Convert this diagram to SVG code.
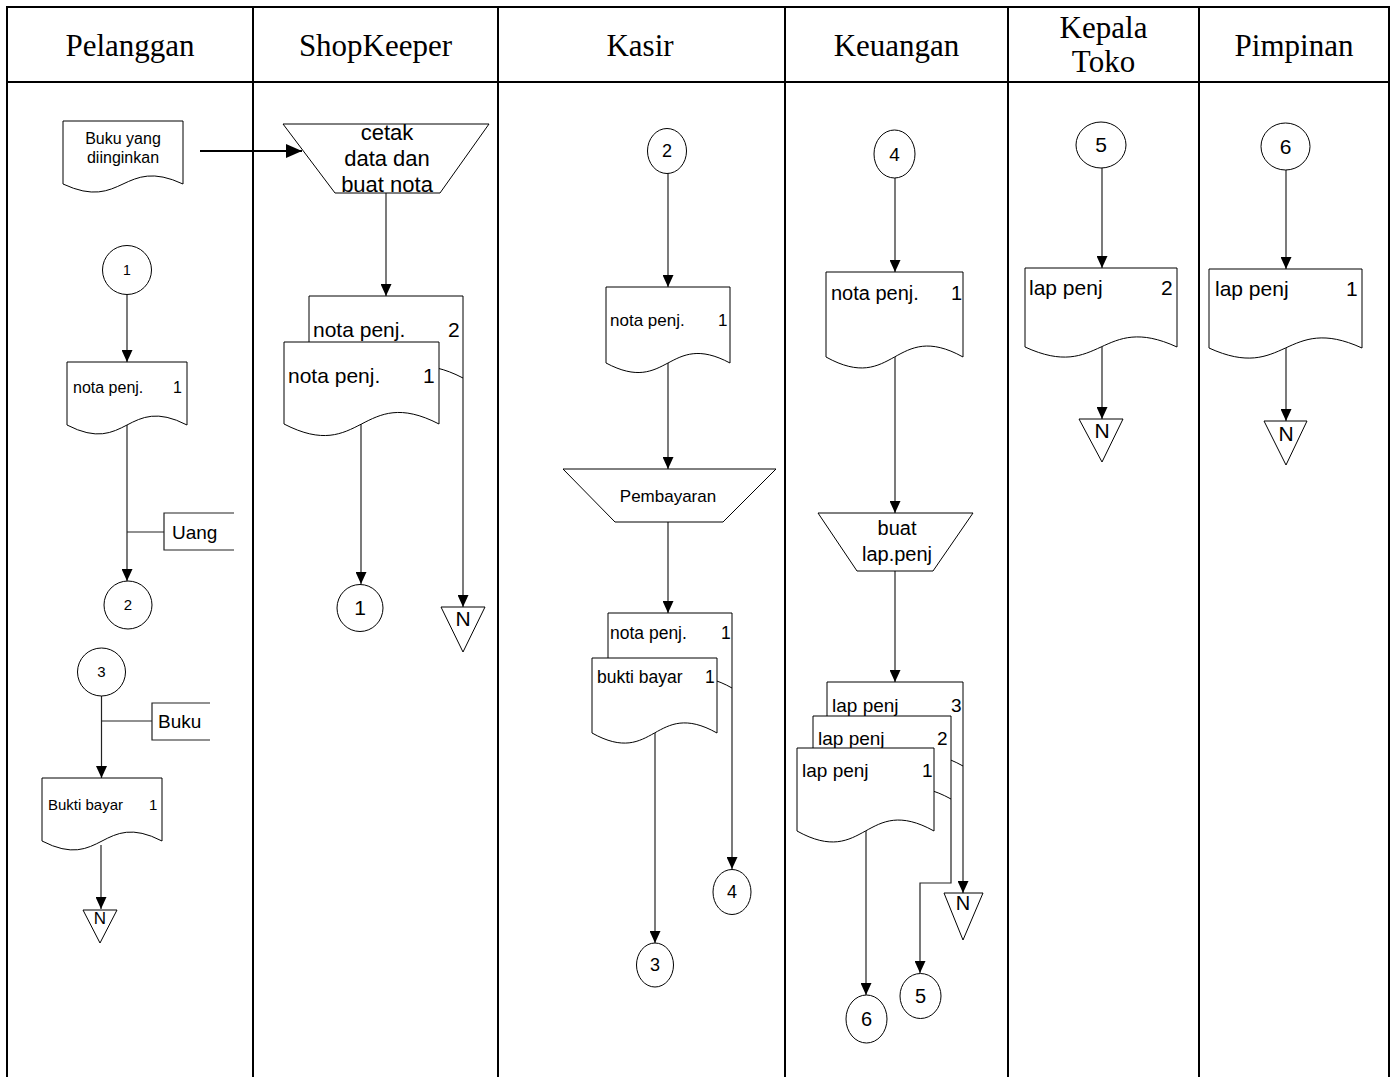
<svg xmlns="http://www.w3.org/2000/svg" width="1395" height="1077" viewBox="0 0 1395 1077">
<style>
.tbl{stroke:#000;stroke-width:2;fill:none}
.hd{font-family:"Liberation Serif","Times New Roman",serif;font-size:31px;text-anchor:middle;fill:#000}
.sh{fill:#fff;stroke:#000;stroke-width:1}
.ln{stroke:#222;stroke-width:1.2;fill:none}
.t{font-family:"Liberation Sans",Arial,sans-serif;fill:#000}
.c{text-anchor:middle}
</style>
<defs>
<marker id="ah" viewBox="0 0 10 10" refX="10" refY="5" markerWidth="12" markerHeight="11" markerUnits="userSpaceOnUse" orient="auto" preserveAspectRatio="none"><path d="M0,0 L10,5 L0,10 Z" fill="#000"/></marker>
<marker id="ahb" viewBox="0 0 10 10" refX="10" refY="5" markerWidth="16" markerHeight="14" markerUnits="userSpaceOnUse" orient="auto" preserveAspectRatio="none"><path d="M0,0 L10,5 L0,10 Z" fill="#000"/></marker>
</defs>
<rect width="1395" height="1077" fill="#fff"/>
<g id="table">
<path class="tbl" d="M7,1077 V7 H1389 V1077 M7,82 H1389 M253,7 V1077 M498,7 V1077 M785,7 V1077 M1008,7 V1077 M1199,7 V1077"/>
<text class="hd" x="130" y="56">Pelanggan</text>
<text class="hd" x="375.5" y="56">ShopKeeper</text>
<text class="hd" x="640" y="56">Kasir</text>
<text class="hd" x="896.5" y="56">Keuangan</text>
<text class="hd" x="1103.5" y="38">Kepala</text>
<text class="hd" x="1103.5" y="72">Toko</text>
<text class="hd" x="1294" y="56">Pimpinan</text>
</g>
<g id="connectors">
<line x1="200" y1="151" x2="302" y2="151" stroke="#000" stroke-width="2" marker-end="url(#ahb)"/>
<line class="ln" x1="127" y1="295" x2="127" y2="362" marker-end="url(#ah)"/>
<line class="ln" x1="127" y1="425" x2="127" y2="581" marker-end="url(#ah)"/>
<line class="ln" x1="127" y1="532" x2="164" y2="532"/>
<line class="ln" x1="101.5" y1="696" x2="101.5" y2="778" marker-end="url(#ah)"/>
<line class="ln" x1="101.5" y1="721" x2="152" y2="721"/>
<line class="ln" x1="101" y1="845" x2="101" y2="909" marker-end="url(#ah)"/>
<line class="ln" x1="386" y1="193" x2="386" y2="296" marker-end="url(#ah)"/>
<line class="ln" x1="361" y1="424" x2="361" y2="584" marker-end="url(#ah)"/>
<line class="ln" x1="463" y1="378" x2="463" y2="607" marker-end="url(#ah)"/>
<line class="ln" x1="668" y1="173" x2="668" y2="287" marker-end="url(#ah)"/>
<line class="ln" x1="668" y1="363" x2="668" y2="469" marker-end="url(#ah)"/>
<line class="ln" x1="668" y1="522" x2="668" y2="613" marker-end="url(#ah)"/>
<line class="ln" x1="732" y1="688" x2="732" y2="869" marker-end="url(#ah)"/>
<line class="ln" x1="655" y1="733" x2="655" y2="943" marker-end="url(#ah)"/>
<line class="ln" x1="895" y1="178" x2="895" y2="272" marker-end="url(#ah)"/>
<line class="ln" x1="895" y1="357" x2="895" y2="513" marker-end="url(#ah)"/>
<line class="ln" x1="895" y1="571" x2="895" y2="682" marker-end="url(#ah)"/>
<line class="ln" x1="963" y1="766" x2="963" y2="893" marker-end="url(#ah)"/>
<polyline class="ln" points="951,799 951,883 920,883 920,973" marker-end="url(#ah)"/>
<line class="ln" x1="866" y1="831" x2="866" y2="995" marker-end="url(#ah)"/>
<line class="ln" x1="1102" y1="168" x2="1102" y2="268" marker-end="url(#ah)"/>
<line class="ln" x1="1102" y1="347" x2="1102" y2="419" marker-end="url(#ah)"/>
<line class="ln" x1="1286" y1="170" x2="1286" y2="269" marker-end="url(#ah)"/>
<line class="ln" x1="1286" y1="348" x2="1286" y2="421" marker-end="url(#ah)"/>
</g>
<g id="p_buku">
<path class="sh" d="M63,121 H183 V184 C123,156 123,212 63,184 Z"/>
<text class="t c" x="123" y="144" font-size="16">Buku yang</text>
<text class="t c" x="123" y="163" font-size="16">diinginkan</text>
</g>
<g id="p_c1"><circle class="sh" cx="127" cy="270" r="24.5"/><text class="t c" x="127" y="275" font-size="14">1</text></g>
<g id="p_nota">
<path class="sh" d="M67,362 H187 V425 C127,394 127,456 67,425 Z"/>
<text class="t" x="73" y="393" font-size="16">nota penj.</text>
<text class="t" x="173" y="393" font-size="16">1</text>
</g>
<g id="p_uang"><path class="ln" d="M234,513 H164 V550 H234"/><text class="t" x="172" y="539" font-size="19">Uang</text></g>
<g id="p_c2"><circle class="sh" cx="128" cy="605" r="24"/><text class="t c" x="128" y="610" font-size="15">2</text></g>
<g id="p_c3"><circle class="sh" cx="101.5" cy="672" r="24"/><text class="t c" x="101.5" y="677" font-size="15">3</text></g>
<g id="p_bukuann"><path class="ln" d="M210,703 H152 V740 H210"/><text class="t" x="158" y="728" font-size="19">Buku</text></g>
<g id="p_bukti">
<path class="sh" d="M42,778 H162 V841 C102,810 102,872 42,841 Z"/>
<text class="t" x="48" y="810" font-size="15">Bukti bayar</text>
<text class="t" x="149" y="810" font-size="15">1</text>
</g>
<g id="p_n"><polygon class="sh" points="83,910 117,910 100,943"/><text class="t c" x="100" y="924" font-size="17">N</text></g>
<g id="sk_cetak">
<polygon class="sh" points="283,124 489,124 440,193 335,193"/>
<text class="t c" x="387" y="140" font-size="22">cetak</text>
<text class="t c" x="387" y="166" font-size="22">data dan</text>
<text class="t c" x="387" y="192" font-size="22">buat nota</text>
</g>
<g id="sk_nota2">
<path class="sh" d="M309,296 H463 V378 C386,338 386,418 309,378 Z"/>
<text class="t" x="313" y="337" font-size="21">nota penj.</text>
<text class="t" x="448" y="337" font-size="21">2</text>
</g>
<g id="sk_nota1">
<path class="sh" d="M284,342 H439 V424 C361.5,384 361.5,464 284,424 Z"/>
<text class="t" x="288" y="383" font-size="21">nota penj.</text>
<text class="t" x="423" y="383" font-size="21">1</text>
</g>
<g id="sk_c1"><ellipse class="sh" cx="360" cy="608" rx="23" ry="23.5"/><text class="t c" x="360" y="615" font-size="21">1</text></g>
<g id="sk_n"><polygon class="sh" points="441,607 485,607 463,652"/><text class="t c" x="463" y="626" font-size="21">N</text></g>
<g id="k_c2"><ellipse class="sh" cx="667" cy="151" rx="19.5" ry="22.5"/><text class="t c" x="667" y="157" font-size="18">2</text></g>
<g id="k_nota">
<path class="sh" d="M606,287 H730 V363 C668,330 668,396 606,363 Z"/>
<text class="t" x="610" y="326" font-size="17">nota penj.</text>
<text class="t" x="718" y="326" font-size="17">1</text>
</g>
<g id="k_pemb">
<polygon class="sh" points="563,469 776,469 723,522 615,522"/>
<text class="t c" x="668" y="502" font-size="17">Pembayaran</text>
</g>
<g id="k_nota_b">
<path class="sh" d="M608,613 H732 V688 C670,653 670,723 608,688 Z"/>
<text class="t" x="610" y="639" font-size="17.5">nota penj.</text>
<text class="t" x="721" y="639" font-size="17.5">1</text>
</g>
<g id="k_bukti">
<path class="sh" d="M592,658 H717 V733 C654.5,698 654.5,768 592,733 Z"/>
<text class="t" x="597" y="683" font-size="17.5">bukti bayar</text>
<text class="t" x="705" y="683" font-size="17.5">1</text>
</g>
<g id="k_c4"><ellipse class="sh" cx="732" cy="892" rx="19" ry="22.5"/><text class="t c" x="732" y="898" font-size="18">4</text></g>
<g id="k_c3"><ellipse class="sh" cx="655" cy="965" rx="18.5" ry="22"/><text class="t c" x="655" y="971" font-size="18">3</text></g>
<g id="ku_c4"><ellipse class="sh" cx="894.5" cy="154" rx="20.5" ry="24"/><text class="t c" x="894.5" y="161" font-size="19">4</text></g>
<g id="ku_nota">
<path class="sh" d="M826,272 H963 V357 C894.5,319 894.5,395 826,357 Z"/>
<text class="t" x="831" y="300" font-size="20">nota penj.</text>
<text class="t" x="951" y="300" font-size="20">1</text>
</g>
<g id="ku_buat">
<polygon class="sh" points="818,513 973,513 933,571 857,571"/>
<text class="t c" x="897" y="535" font-size="20">buat</text>
<text class="t c" x="897" y="561" font-size="20">lap.penj</text>
</g>
<g id="ku_lap3">
<path class="sh" d="M827,682 H963 V766 C895,728 895,804 827,766 Z"/>
<text class="t" x="832" y="712" font-size="19">lap penj</text>
<text class="t" x="951" y="712" font-size="19">3</text>
</g>
<g id="ku_lap2">
<path class="sh" d="M813,716 H951 V799 C882,761 882,837 813,799 Z"/>
<text class="t" x="818" y="745" font-size="19">lap penj</text>
<text class="t" x="937" y="745" font-size="19">2</text>
</g>
<g id="ku_lap1">
<path class="sh" d="M797,748 H934 V831 C865.5,793 865.5,869 797,831 Z"/>
<text class="t" x="802" y="777" font-size="19">lap penj</text>
<text class="t" x="922" y="777" font-size="19">1</text>
</g>
<g id="ku_n"><polygon class="sh" points="944,893 983,893 963,940"/><text class="t c" x="963" y="910" font-size="20">N</text></g>
<g id="ku_c5"><ellipse class="sh" cx="920.5" cy="996" rx="20.5" ry="22.5"/><text class="t c" x="920.5" y="1003" font-size="20">5</text></g>
<g id="ku_c6"><ellipse class="sh" cx="866.5" cy="1019" rx="20.5" ry="24"/><text class="t c" x="866.5" y="1026" font-size="20">6</text></g>
<g id="kt_c5"><ellipse class="sh" cx="1101" cy="145" rx="25" ry="23"/><text class="t c" x="1101" y="152" font-size="21">5</text></g>
<g id="kt_lap">
<path class="sh" d="M1025,268 H1177 V347 C1101,312 1101,382 1025,347 Z"/>
<text class="t" x="1029" y="295" font-size="21">lap penj</text>
<text class="t" x="1161" y="295" font-size="21">2</text>
</g>
<g id="kt_n"><polygon class="sh" points="1079,419 1123,419 1102,462"/><text class="t c" x="1102" y="438" font-size="21">N</text></g>
<g id="pm_c6"><ellipse class="sh" cx="1285.5" cy="146.5" rx="24.5" ry="23.5"/><text class="t c" x="1285.5" y="154" font-size="21">6</text></g>
<g id="pm_lap">
<path class="sh" d="M1209,269 H1362 V348 C1285.5,313 1285.5,383 1209,348 Z"/>
<text class="t" x="1215" y="296" font-size="21">lap penj</text>
<text class="t" x="1346" y="296" font-size="21">1</text>
</g>
<g id="pm_n"><polygon class="sh" points="1264,421 1307,421 1286,465"/><text class="t c" x="1286" y="441" font-size="21">N</text></g>
</svg>
